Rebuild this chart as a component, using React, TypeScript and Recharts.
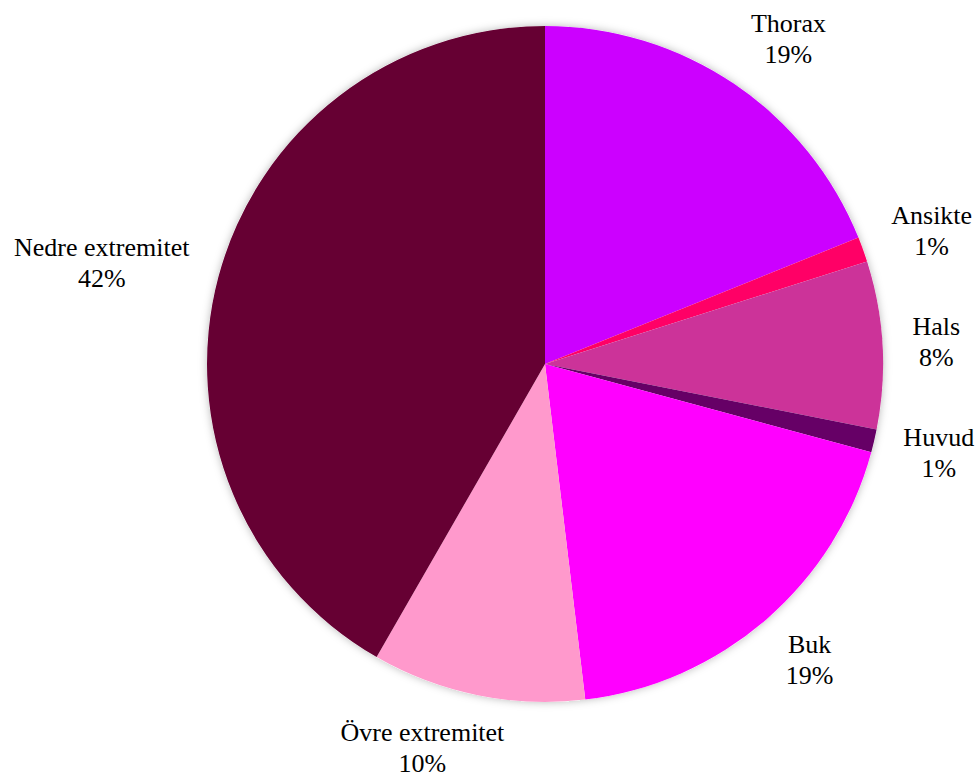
import React from 'react';
import { PieChart, Pie, Cell } from 'recharts';

const categories = ['Thorax', 'Ansikte', 'Hals', 'Huvud', 'Buk', 'Övre extremitet', 'Nedre extremitet'];
const shares = [18.9, 1.2, 8.0, 1.1, 18.9, 10.2, 41.7];
const colors = ['#CC00FF', '#FF0066', '#CC3399', '#660066', '#FF00FF', '#FF99CC', '#660033'];

const data = categories.map((name, i) => ({ name, value: shares[i] }));
const backdrop = [{ name: 'all', value: 100 }];

const FONT = "'Liberation Serif', 'Times New Roman', 'DejaVu Serif', serif";
const FONT_SIZE = 26;

let ctx: CanvasRenderingContext2D | null = null;
function measure(t: string): number {
  try {
    if (!ctx) {
      const c = document.createElement('canvas');
      ctx = c.getContext('2d');
    }
    if (ctx) {
      ctx.font = `${FONT_SIZE}px "Liberation Serif"`;
      return ctx.measureText(t).width;
    }
  } catch (e) {}
  return t.length * 11;
}

const RADIAN = Math.PI / 180;
const clamp = (v: number) => Math.max(-1, Math.min(1, v));

const renderLabel = (props: any) => {
  const { cx, cy, midAngle, outerRadius, name, percent } = props;
  const ux = Math.cos(-midAngle * RADIAN);
  const uy = Math.sin(-midAngle * RADIAN);
  const pct = `${Math.round(percent * 100)}%`;
  const w = Math.max(measure(name), measure(pct));
  const hw = w / 2;
  const hh = 24;
  const d = outerRadius + 30;
  const x = cx + ux * d + hw * clamp(ux * 3);
  const y = cy + uy * d + hh * uy;
  return (
    <g key={name}>
      <text x={x} y={y - 7} textAnchor="middle" fill="#000" fontFamily={FONT} fontSize={FONT_SIZE}
        style={{ fontFamily: FONT, fontSize: FONT_SIZE }}>
        {name}
      </text>
      <text x={x} y={y + 24} textAnchor="middle" fill="#000" fontFamily={FONT} fontSize={FONT_SIZE}
        style={{ fontFamily: FONT, fontSize: FONT_SIZE }}>
        {pct}
      </text>
    </g>
  );
};

export default function App() {
  return (
    <div style={{ position: 'absolute', left: 0, top: 0, width: 976, height: 772, background: '#fff', fontFamily: FONT }}>
      <style>{`.pie-bg path { filter: url(#pieShadow); }`}</style>
      <svg width={0} height={0} style={{ position: 'absolute' }}>
        <defs>
          <filter id="pieShadow" x="-10%" y="-10%" width="120%" height="120%">
            <feDropShadow dx="0" dy="0" stdDeviation="4" floodColor="#000" floodOpacity="0.28" />
          </filter>
        </defs>
      </svg>
      <PieChart width={976} height={772} margin={{ top: 0, right: 0, bottom: 0, left: 0 }}>
        <Pie
          className="pie-bg"
          data={backdrop}
          dataKey="value"
          cx={545}
          cy={364}
          outerRadius={338}
          startAngle={90}
          endAngle={-270}
          fill="#ffffff"
          stroke="none"
          label={false}
          labelLine={false}
          isAnimationActive={false}
        />
        <Pie
          data={data}
          dataKey="value"
          nameKey="name"
          cx={545}
          cy={364}
          outerRadius={338}
          startAngle={90}
          endAngle={-270}
          stroke="none"
          label={renderLabel}
          labelLine={false}
          isAnimationActive={false}
        >
          {data.map((d, i) => (
            <Cell key={d.name} fill={colors[i]} stroke="none" />
          ))}
        </Pie>
      </PieChart>
    </div>
  );
}
